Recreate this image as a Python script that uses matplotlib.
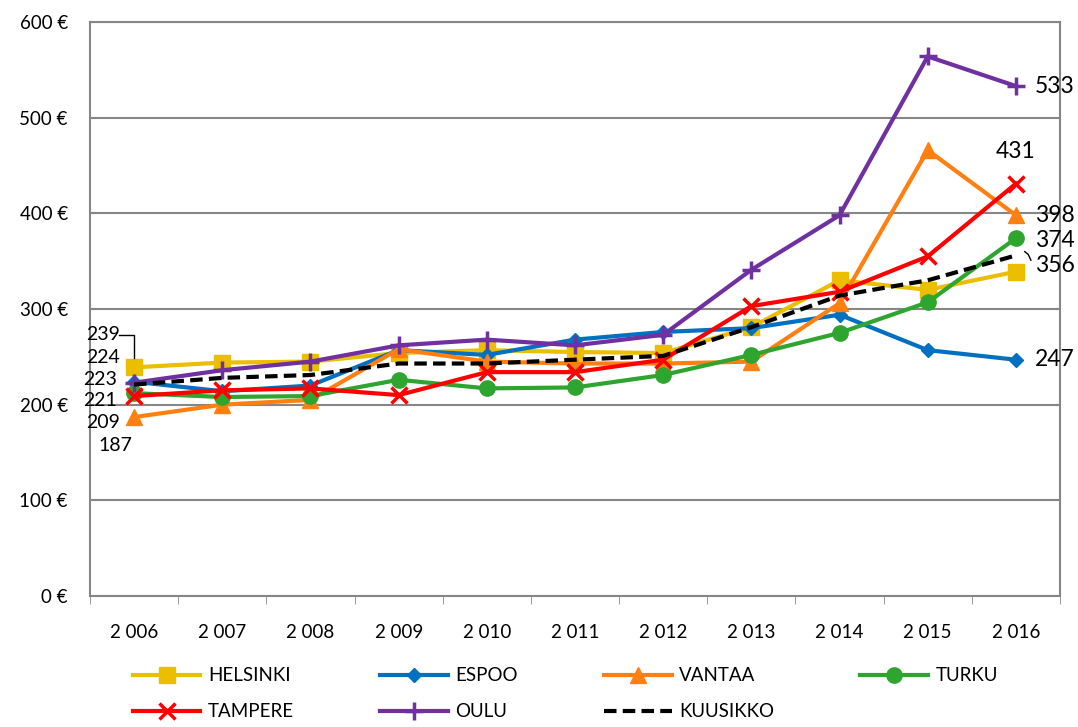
import matplotlib.pyplot as plt

# Vuodet ja sarjat
years = ['2 006', '2 007', '2 008', '2 009', '2 010', '2 011',
         '2 012', '2 013', '2 014', '2 015', '2 016']

helsinki = [239, 244, 245, 254, 257, 255, 254, 281, 330, 320, 339]
espoo = [224, 214, 220, 257, 252, 268, 276, 280, 294, 257, 247]
vantaa = [187, 200, 205, 258, 245, 243, 243, 245, 306, 466, 398]
turku = [212, 208, 209, 226, 217, 218, 231, 252, 275, 307, 374]
tampere = [209, 215, 217, 210, 234, 234, 247, 303, 318, 355, 431]
oulu = [223, 236, 245, 262, 268, 262, 273, 341, 398, 564, 533]
kuusikko = [221, 228, 231, 243, 243, 247, 251, 281, 314, 330, 356]

y_ticks = [0, 100, 200, 300, 400, 500, 600]

plt.rcParams['font.family'] = ['Lato', 'DejaVu Sans']
plt.rcParams['font.size'] = 13.5

fig = plt.figure(figsize=(10.78, 7.27), dpi=100)
ax = fig.add_axes([90 / 1078, 131 / 727, 970 / 1078, 574 / 727])

x = list(range(len(years)))
grey = '#868686'

series = [
    ('HELSINKI', helsinki, '#EBBE00', 's', 11, '-'),
    ('ESPOO', espoo, '#0070C0', 'D', 7, '-'),
    ('VANTAA', vantaa, '#FF8010', '^', 11, '-'),
    ('TURKU', turku, '#2EA52E', 'o', 11, '-'),
    ('TAMPERE', tampere, '#FF0000', 'x', 11, '-'),
    ('OULU', oulu, '#7030A0', '+', 13, '-'),
]
handles = {}
for name, vals, col, mk, ms, ls in series:
    h, = ax.plot(x, vals, color=col, lw=3, marker=mk, markersize=ms,
                 markeredgewidth=2.5 if mk in ('x', '+') else 1,
                 markeredgecolor=col, label=name)
    handles[name] = h
h, = ax.plot(x, kuusikko, color='black', lw=3, ls=(0, (3, 1.5)), label='KUUSIKKO')
handles['KUUSIKKO'] = h

# datalabels
def lab(i, v, dx, dy, ha='center', fs=16.5):
    ax.annotate(str(v), (x[i], v), xytext=(dx, dy), textcoords='offset pixels',
                ha=ha, va='center', fontsize=fs)

lab(0, helsinki[0], -31, 33, fs=14)
lab(0, espoo[0], -31, 24, fs=14)
lab(0, oulu[0], -34, 3, fs=14)
lab(0, kuusikko[0], -34, -16, fs=14)
lab(0, tampere[0], -31, -26, fs=14)
lab(0, vantaa[0], -19, -28, fs=14)
ax.plot([x[0] - 0.17, x[0], x[0]], [273, 273, 249], color='black', lw=1)

lab(10, oulu[10], 19, 0, 'left')
lab(10, tampere[10], 0, 32)
lab(10, vantaa[10], 19, 0, 'left')
lab(10, turku[10], 19, -2, 'left')
lab(10, kuusikko[10], 19, -10, 'left')
lab(10, espoo[10], 19, 0, 'left')
ax.plot([x[10] + 0.1, x[10] + 0.14, x[10] + 0.17], [360, 357, 351], color='black', lw=1)

ax.set_xlim(-0.5, len(years) - 0.5)
ax.set_ylim(0, 600)
ax.set_xticks(x)
ax.set_xticklabels(years)
ax.set_xticks([i - 0.5 for i in range(len(years) + 1)], minor=True)
ax.tick_params(axis='x', which='major', length=0, pad=20)
ax.tick_params(axis='x', which='minor', length=6, color=grey, direction='out')
ax.set_yticks(y_ticks)
ax.set_yticklabels([f'{v} €' for v in y_ticks])
ax.tick_params(axis='y', length=0, pad=16)
ax.yaxis.grid(True, color=grey, lw=1.5)
ax.set_axisbelow(True)
for s in ax.spines.values():
    s.set_color(grey)
    s.set_linewidth(1.5)

order = ['HELSINKI', 'TAMPERE', 'ESPOO', 'OULU', 'VANTAA', 'KUUSIKKO', 'TURKU']
ax.legend([handles[n] for n in order], order,
          loc='upper center', bbox_to_anchor=(0.49, -0.095), ncol=4, frameon=False,
          handlelength=3.6, columnspacing=4.6, handletextpad=0.4,
          labelspacing=1.0, fontsize=13.5)

fig.savefig('out.png', dpi=100)
